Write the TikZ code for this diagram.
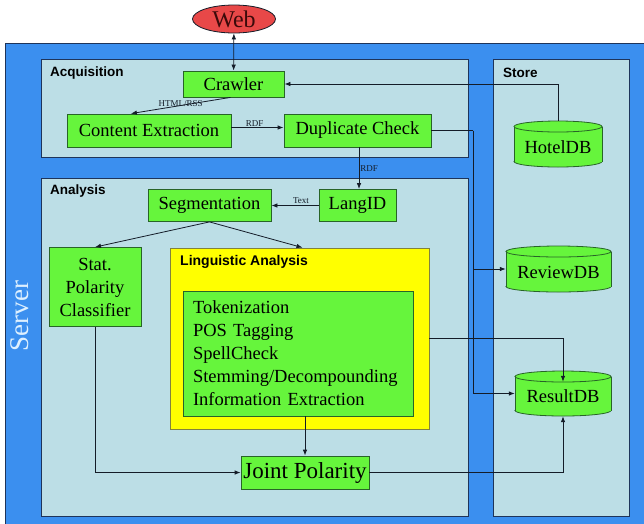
\documentclass[tikz,border=0pt]{standalone}
\usepackage{fontspec}
\setmainfont{Liberation Serif}
\setsansfont{Liberation Sans}
\usetikzlibrary{arrows.meta,shapes.geometric,calc}
\definecolor{srvblue}{RGB}{59,143,239}
\definecolor{panelfill}{RGB}{188,222,230}
\definecolor{navy}{RGB}{30,52,90}
\definecolor{gfill}{RGB}{102,245,60}
\definecolor{gborder}{RGB}{40,100,40}
\definecolor{yfill}{RGB}{255,255,0}
\definecolor{yborder}{RGB}{130,130,60}
\definecolor{webred}{RGB}{232,72,72}
\definecolor{linec}{RGB}{20,28,40}
\definecolor{srvtext}{RGB}{222,240,255}
\newcommand\dbshape[5]{%
  \fill[gfill,draw=gborder,line width=0.8pt] (#1,#3-#5) ellipse [x radius=#4pt, y radius=#5pt];
  \fill[gfill] (#1-#4,#2+#5) rectangle (#1+#4,#3-#5);
  \draw[gborder,line width=0.8pt] (#1-#4,#2+#5) -- (#1-#4,#3-#5) (#1+#4,#2+#5) -- (#1+#4,#3-#5);
  \fill[gfill,draw=gborder,line width=0.8pt] (#1,#2+#5) ellipse [x radius=#4pt, y radius=#5pt];
}
\newcommand\boxfont{\rmfamily\mdseries\fontsize{18.5}{23}\selectfont}
\begin{document}
\begin{tikzpicture}[x=1pt,y=-1pt,
  conn/.style={draw=linec, line width=0.8pt},
  arr/.style={conn,-{Latex[length=6pt,width=4.5pt]}},
  darr/.style={conn,{Latex[length=6pt,width=4.5pt]}-{Latex[length=6pt,width=4.5pt]}},
  gbox/.style={draw=gborder, fill=gfill, line width=0.8pt, inner sep=0pt, align=center, font=\boxfont},
  panel/.style={draw=navy, fill=panelfill, line width=0.9pt, inner sep=0pt},
  ptitle/.style={font=\sffamily\bfseries\fontsize{13.5}{16}\selectfont, anchor=west, inner sep=0pt},
  elabel/.style={font=\rmfamily\fontsize{9}{10}\selectfont, inner sep=1pt, text=linec},
  dbnode/.style={inner sep=0pt, font=\boxfont, text height=18pt, text depth=0pt}
]
\useasboundingbox (0,0) rectangle (644,523);
\fill[white] (0,0) rectangle (644,523);
% server
\node[draw=navy, fill=srvblue, line width=0.9pt, inner sep=0pt, minimum width=643pt, minimum height=484pt] (server) at (326.5,285) {};
\node[rotate=90, text=srvtext, font=\rmfamily\fontsize{27}{30}\selectfont, inner sep=0pt] (servertxt) at (20,316) {Server};
% panels
\node[panel, minimum width=427pt, minimum height=98pt] (acq) at (254.5,108) {};
\node[panel, minimum width=136pt, minimum height=457pt] (store) at (561,287.5) {};
\node[panel, minimum width=427pt, minimum height=338pt] (ana) at (254.5,347) {};
\node[ptitle] (acqt) at (50,73) {Acquisition};
\node[ptitle] (storet) at (503,73) {Store};
\node[ptitle] (anat) at (50,191) {Analysis};
% web
\node[ellipse, draw=linec, fill=webred, line width=0.8pt, inner sep=0pt, minimum width=83pt, minimum height=28pt, font=\rmfamily\fontsize{24}{26}\selectfont, text={rgb,255:red,60;green,10;blue,10}] (web) at (234,19) {Web};
% acquisition
\node[gbox, minimum width=101pt, minimum height=26pt] (crawler) at (233.5,84) {Crawler};
\node[gbox, minimum width=164pt, minimum height=33pt] (ce) at (149,130.5) {Content Extraction};
\node[gbox, minimum width=147pt, minimum height=33pt] (dc) at (357.5,130.5) {Duplicate Check};
% analysis
\node[gbox, minimum width=123pt, minimum height=32pt] (seg) at (209.5,205.5) {Segmentation};
\node[gbox, minimum width=77pt, minimum height=32pt] (lang) at (357.5,205.5) {LangID};
\node[gbox, minimum width=92pt, minimum height=79pt] (stat) at (95,287) {Stat.\\Polarity\\Classifier};
\node[draw=yborder, fill=yfill, line width=0.8pt, inner sep=0pt, minimum width=259pt, minimum height=181pt] (ling) at (299.5,338.5) {};
\node[ptitle, font=\sffamily\bfseries\fontsize{14}{16}\selectfont] (lingt) at (180,262) {Linguistic Analysis};
\node[gbox, align=left, text width=210pt, inner xsep=10pt, minimum height=125pt] (inner) at (298,353.5) {Tokenization\\POS Tagging\\SpellCheck\\Stemming/Decompounding\\Information Extraction};
\node[gbox, minimum width=128pt, minimum height=33pt, font=\rmfamily\fontsize{23}{26}\selectfont] (joint) at (305,472.5) {Joint Polarity};
% store
\dbshape{558}{121}{167}{44}{5.5}
\node[dbnode, minimum width=88pt, minimum height=46pt] (hotel) at (558,144) {HotelDB};
\dbshape{558.5}{246}{292}{52.5}{5.5}
\node[dbnode, minimum width=105pt, minimum height=46pt] (review) at (558.5,269) {ReviewDB};
\dbshape{563}{371}{416}{48}{5.5}
\node[dbnode, minimum width=96pt, minimum height=45pt] (result) at (563,393.5) {ResultDB};
% connectors
\draw[darr] (web) -- (crawler);
\draw[arr] (hotel.north) |- (crawler.east);
\draw[arr] ([xshift=-3pt]crawler.south) -- ($(ce.north west)!0.39!(ce.north east)$) node[midway, elabel, yshift=1.5pt] {HTML/RSS};
\draw[arr] ([yshift=3pt]ce.east) -- ([yshift=3pt]dc.west) node[midway, above, elabel, inner sep=0.5pt, xshift=-3pt] {RDF};
\draw[arr] ([xshift=1.5pt]dc.south) -- ([xshift=1.5pt]lang.north) node[midway, right, elabel] {RDF};
\draw[arr] (lang.west) -- (seg.east) node[midway, above, elabel, inner sep=1.5pt, xshift=6pt] {Text};
\draw[arr] (seg.south) -- (stat.north);
\draw[arr] (seg.south) -- ([xshift=3pt]ling.north);
\draw[arr] (stat.south) |- (joint.west);
\draw[arr] (inner.south -| joint.north) -- (joint.north);
\draw[arr] (joint.east) -| (result.south);
\draw[arr] (ling.east) -| ($(result.north)+(0,11)$);
\coordinate (bus) at (473,130.5);
\draw[conn] (dc.east) -- (bus);
\draw[arr] (bus) |- (review.west);
\draw[arr] (bus) |- (result.west);
\end{tikzpicture}
\end{document}
